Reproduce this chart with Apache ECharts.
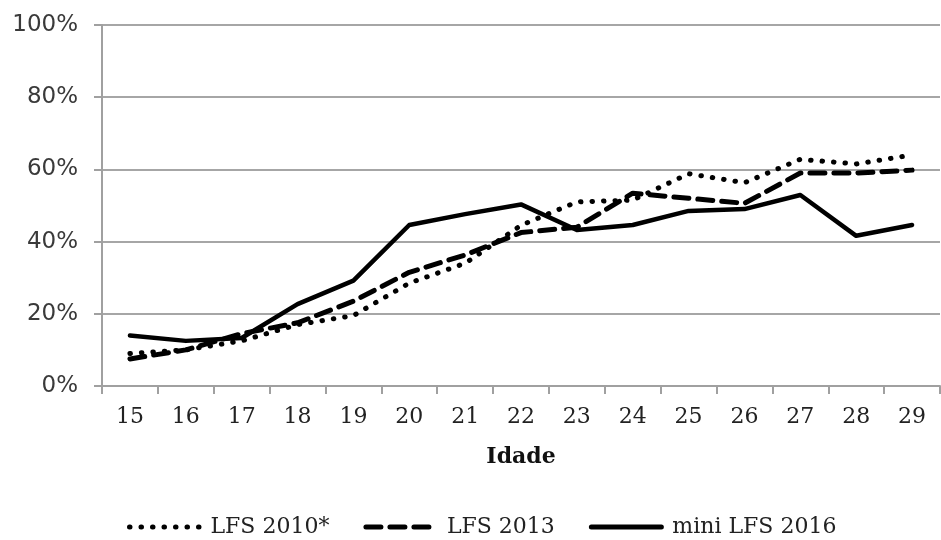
<!DOCTYPE html>
<html>
<head>
<meta charset="utf-8">
<script src="https://cdn.jsdelivr.net/npm/echarts@6/dist/echarts.min.js"></script>
<style>
html,body{margin:0;padding:0;background:#fff;}
#chart{width:941px;height:540px;}
</style>
</head>
<body>
<div id="chart"></div>
<script>
const categories = ['15','16','17','18','19','20','21','22','23','24','25','26','27','28','29'];
const lfs2010 = [9, 10, 12.5, 17, 19.5, 28.5, 34, 44.5, 51, 51.5, 58.8, 56.3, 62.8, 61.5, 64];
const lfs2013 = [7.5, 10, 14.5, 17.5, 23.5, 31.5, 36.3, 42.5, 44, 53.4, 52, 50.6, 59, 59, 59.8];
const mini2016 = [14, 12.5, 13.3, 22.7, 29.2, 44.6, 47.6, 50.3, 43.2, 44.6, 48.5, 49, 52.9, 41.6, 44.6];
const yTicks = [0, 20, 40, 60, 80, 100];
const seriesNames = ['LFS 2010*', 'LFS 2013', 'mini LFS 2016'];

const chart = echarts.init(document.getElementById('chart'), null, {renderer: 'canvas'});
const serif = 'DejaVu Serif';
chart.setOption({
  animation: false,
  backgroundColor: '#fff',
  grid: {left: 102, right: 1, top: 25, bottom: 154, containLabel: false},
  legend: {
    top: 511,
    left: 122,
    itemWidth: 70,
    itemHeight: 14,
    itemGap: 34,
    itemStyle: {opacity: 0},
    lineStyle: {width: 5},
    textStyle: {fontFamily: serif, fontSize: 22, color: '#222', padding: [0, 0, 0, 6]},
    data: seriesNames
  },
  xAxis: {
    type: 'category',
    data: categories,
    boundaryGap: true,
    name: 'Idade',
    nameLocation: 'middle',
    nameGap: 60,
    nameTextStyle: {fontFamily: serif, fontSize: 22, fontWeight: 'bold', color: '#111'},
    axisLine: {lineStyle: {color: '#a0a0a0', width: 2}},
    axisTick: {show: true, length: 8, lineStyle: {color: '#a0a0a0', width: 2}},
    axisLabel: {fontFamily: serif, fontSize: 22, color: '#222', margin: 20}
  },
  yAxis: {
    type: 'value',
    min: yTicks[0],
    max: yTicks[yTicks.length - 1],
    interval: yTicks[1] - yTicks[0],
    axisLine: {show: true, lineStyle: {color: '#a0a0a0', width: 2}},
    axisTick: {show: true, length: 8, lineStyle: {color: '#a0a0a0', width: 2}},
    splitLine: {lineStyle: {color: '#a6a6a6', width: 2}},
    axisLabel: {fontFamily: 'DejaVu Sans', fontSize: 23, color: '#3a3a3a', margin: 24, formatter: '{value}%'}
  },
  series: [
    {
      name: seriesNames[0], type: 'line', data: lfs2010, symbol: 'none',
      lineStyle: {color: '#000', width: 5, type: [0.5, 11], cap: 'round'},
      itemStyle: {color: '#000'}
    },
    {
      name: seriesNames[1], type: 'line', data: lfs2013, symbol: 'none',
      lineStyle: {color: '#000', width: 5, type: [15, 9], cap: 'round'},
      itemStyle: {color: '#000'}
    },
    {
      name: seriesNames[2], type: 'line', data: mini2016, symbol: 'none', z: 3,
      lineStyle: {color: '#000', width: 4.5, type: 'solid', cap: 'round', join: 'round'},
      itemStyle: {color: '#000'}
    }
  ]
});
</script>
</body>
</html>
